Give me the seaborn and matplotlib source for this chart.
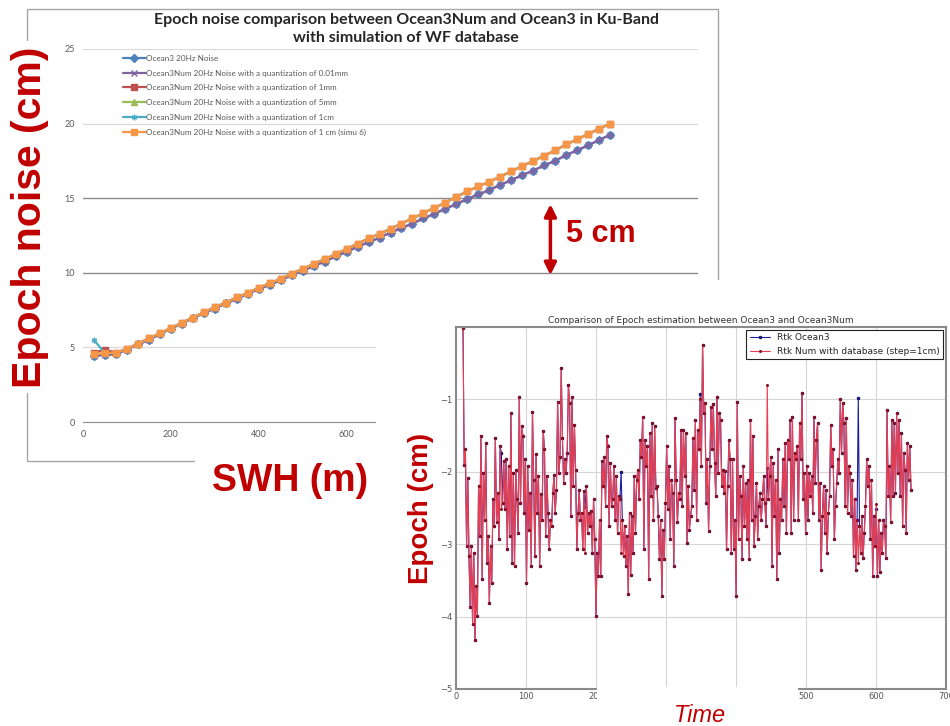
import matplotlib
matplotlib.use("Agg")
import matplotlib.pyplot as plt
from matplotlib.patches import Rectangle
import numpy as np
import seaborn as sns

sns.set_style("white")
plt.rcParams["font.family"] = ["DejaVu Sans"]

RED = "#c00000"
W, H = 950, 726

# ---- top chart: epoch noise vs SWH (Excel screenshot) ----
swh = list(range(25, 1225, 25))
ocean3_noise = [4.45, 4.50, 4.55, 4.85, 5.20, 5.50, 5.90, 6.25, 6.60, 6.95,
                7.30, 7.60, 7.95, 8.25, 8.60, 8.90, 9.20, 9.50, 9.85, 10.15,
                10.45, 10.75, 11.10, 11.40, 11.75, 12.05, 12.35, 12.70, 13.00, 13.30,
                13.65, 13.95, 14.30, 14.60, 14.95, 15.25, 15.55, 15.90, 16.20, 16.55,
                16.85, 17.20, 17.50, 17.90, 18.20, 18.55, 18.90, 19.25]
num_1cm_simu6 = [4.55, 4.60, 4.65, 4.90, 5.25, 5.60, 5.95, 6.30, 6.65, 7.00,
                 7.35, 7.70, 8.00, 8.35, 8.65, 9.00, 9.30, 9.60, 9.95, 10.25,
                 10.60, 10.90, 11.25, 11.60, 11.95, 12.30, 12.60, 12.95, 13.30, 13.65,
                 14.00, 14.35, 14.70, 15.10, 15.45, 15.80, 16.10, 16.45, 16.80, 17.15,
                 17.50, 17.85, 18.20, 18.60, 18.95, 19.30, 19.65, 20.00]
num_001mm = list(ocean3_noise)
num_1mm = [4.65, 4.85] + num_1cm_simu6[2:]
num_5mm = list(num_1cm_simu6)
num_1cm = [5.50] + num_1cm_simu6[1:]
# labels right of 600 are hidden under the second screenshot
swh_ticks = [0, 200, 400, 600, 800, 1000, 1200, 1400]
swh_ticklabels = ["0", "200", "400", "600", "", "", "", ""]

q = "Ocean3Num 20Hz Noise with a quantization of "
top_series = [
    ("Ocean3 20Hz Noise", ocean3_noise, "#4F81BD", "D"),
    (q + "0.01mm", num_001mm, "#8064A2", "x"),
    (q + "1mm", num_1mm, "#C0504D", "s"),
    (q + "5mm", num_5mm, "#9BBB59", "^"),
    (q + "1cm", num_1cm, "#4BACC6", (6, 2, 0)),
    (q + "1 cm (simu 6)", num_1cm_simu6, "#F79646", "s"),
]

# ---- bottom chart: epoch time series ----
rtk_num = [
    -0.02, -1.90, -1.69, -3.03, -2.08, -3.16, -3.87, -3.03, -4.10, -3.12, -4.32, -3.58, -3.99,
    -2.20, -2.89, -1.51, -3.48, -2.02, -2.66, -1.60, -3.26, -2.89, -3.81, -3.03, -3.53, -2.38, -2.75,
    -1.53, -2.70, -2.29, -2.93, -1.65, -2.52, -2.43, -1.85, -2.52, -1.83, -3.07, -1.92,
    -2.89, -1.19, -3.26, -2.02, -3.30, -1.97, -2.38, -2.84, -0.96, -2.43, -1.37, -1.51,
    -2.57, -1.83, -3.53, -1.92, -2.80, -2.29, -3.30, -1.17, -2.11, -3.16, -1.76, -2.57, -2.06,
    -3.30, -2.31, -2.66, -1.44, -1.69, -2.89, -2.06, -2.57, -3.07, -2.66, -2.75,
    -2.29, -2.04, -2.57, -2.25, -1.03, -2.02, -1.79, -0.57, -1.53, -2.15, -1.83, -2.02,
    -1.74, -0.80, -1.05, -2.61, -0.96, -2.20, -1.35, -1.97, -3.07, -2.57,
    -2.25, -2.66, -2.57, -3.07, -2.27, -3.12, -2.20, -2.84, -2.57, -2.75, -2.54, -3.12, -2.38,
    -2.93, -3.99, -3.12, -3.44, -2.66, -3.44, -1.85, -2.20, -1.79, -2.47, -1.51, -1.65,
    -2.75, -1.88, -2.47, -2.38, -1.92, -2.66, -2.06, -2.84, -2.34, -2.38,
    -3.12, -2.66, -3.16, -2.75, -3.30, -2.89, -3.69, -2.57, -3.42, -2.61, -3.12,
    -2.06, -2.84, -2.11, -1.97, -2.38, -1.56, -1.79, -1.24, -3.07, -1.56, -1.92, -1.65,
    -3.48, -1.46, -2.34, -1.33, -2.66, -1.37, -2.22, -2.20, -2.61, -3.21, -2.66, -3.71,
    -2.80, -3.21, -2.43, -1.65, -2.52, -1.92, -2.93, -2.11, -2.29, -3.30, -1.26, -2.11,
    -2.70, -2.29, -2.38, -1.42, -2.47, -1.42, -2.06, -1.46, -2.98, -2.20, -2.80, -2.61,
    -2.47, -1.53, -2.25, -1.28, -2.66, -1.42,
    -1.69, -1.00, -1.92, -0.25, -1.19, -1.05, -2.43, -1.83, -2.82, -1.92,
    -1.10, -1.69, -1.07, -1.88, -2.34, -0.96, -2.02, -1.19, -1.28, -2.20, -1.97,
    -2.29, -1.99, -3.07, -2.20, -1.56, -1.83, -3.12, -1.83, -3.07, -2.66, -3.71,
    -1.03, -2.93, -2.06, -2.34, -3.21, -1.92, -2.75, -2.15, -2.93, -2.11, -3.21, -1.28,
    -2.66, -1.51, -3.03, -2.61, -2.15, -2.93, -2.47, -2.29, -2.66, -2.38, -2.06, -2.43,
    -2.75, -0.80, -2.38, -2.06, -1.79, -3.30, -1.88, -2.61, -2.11, -3.48, -1.69, -3.12,
    -2.38, -2.66, -1.83, -2.47, -1.60, -2.84, -1.56, -1.83, -1.28,
    -2.84, -1.24, -2.66, -1.74, -1.83, -1.65, -2.66, -1.33, -1.83,
    -0.91, -2.38, -2.02, -2.84, -1.92, -2.66, -2.02, -2.34, -2.06,
    -2.57, -1.24, -2.15, -1.56, -1.33, -2.66, -2.15, -3.35, -2.61, -2.20,
    -2.84, -2.25, -3.12, -2.57, -2.34, -1.35, -1.92, -1.69, -2.93, -2.47, -2.15, -1.83,
    -2.02, -1.00, -1.74, -1.05, -1.33, -2.47, -1.26, -2.57, -1.92, -2.02,
    -2.61, -2.11, -3.16, -2.38, -3.35, -2.66, -3.26, -2.75, -3.12, -2.61, -3.19, -2.84,
    -2.47, -1.83, -2.20, -1.92, -2.93, -2.11, -3.44, -2.61, -3.03, -2.45, -3.44, -2.66, -3.39,
    -2.84, -3.12, -2.66, -2.75, -3.19, -1.14, -2.34, -1.92, -2.70, -1.28, -2.34, -1.33,
    -2.29, -1.19, -2.02, -1.28, -2.34, -1.46, -2.75, -1.74, -1.97,
    -2.84, -1.60, -2.11, -1.65, -2.25,
]
# points where the Ocean3 curve shows from under the red one
rtk_ocean3_diff = {32: -1.74, 102: -2.48, 132: -2.00, 198: -0.92,
                   254: -1.95, 330: -0.98, 345: -2.52}
rtk_ocean3 = [rtk_ocean3_diff.get(i, v) for i, v in enumerate(rtk_num)]
time = np.linspace(10, 650, len(rtk_num))


def fx(px):
    return px / W


def fy(py):
    return 1 - py / H


fig = plt.figure(figsize=(9.5, 7.26), dpi=100)

# Excel chart frame
fig.patches.append(Rectangle((fx(27), fy(461)), fx(718 - 27), (461 - 9) / H,
                             transform=fig.transFigure, fill=False,
                             edgecolor="#a6a6a6", lw=1.0, zorder=0))

ax1 = fig.add_axes([fx(83), fy(422), fx(698 - 83), (422 - 49) / H])
ax1.set_zorder(1)
for label, vals, color, marker in top_series:
    sns.lineplot(x=swh, y=vals, ax=ax1, color=color, marker=marker,
                 markersize=4, markeredgecolor=color, markeredgewidth=1.0,
                 lw=1.6, label=label, estimator=None, sort=False)
ax1.set_xlim(0, 1400)
ax1.set_ylim(0, 25)
ax1.set_xticks(swh_ticks, swh_ticklabels)
ax1.set_yticks(range(0, 26, 5))
for yv in [5, 20, 25]:
    ax1.axhline(yv, color="#d9d9d9", lw=0.9, zorder=0)
for yv in [10, 15]:
    ax1.axhline(yv, color="#8c8c8c", lw=1.0, zorder=0)
for side in ["top", "right", "left"]:
    ax1.spines[side].set_visible(False)
ax1.spines["bottom"].set_color("#8c8c8c")
ax1.tick_params(length=0, labelsize=6.5, colors="#595959", pad=6)
ax1.set_xlabel("")
ax1.set_ylabel("")
leg1 = ax1.legend(loc="upper left", bbox_to_anchor=(0.055, 1.0), frameon=False,
                  fontsize=5.9, labelspacing=0.95, handlelength=2.8,
                  handletextpad=0.1, borderaxespad=0.3)
for t in leg1.get_texts():
    t.set_color("#595959")
    t.set_family(["Lato", "DejaVu Sans"])
for t in ax1.get_xticklabels() + ax1.get_yticklabels():
    t.set_family(["Lato", "DejaVu Sans"])

fig.text(fx(406), fy(20), "Epoch noise comparison between Ocean3Num and Ocean3 in Ku-Band",
         ha="center", va="center", fontsize=11.5, weight="bold", color="#262626",
         family=["Lato", "DejaVu Sans"])
fig.text(fx(406), fy(38), "with simulation of WF database",
         ha="center", va="center", fontsize=11.5, weight="bold", color="#262626",
         family=["Lato", "DejaVu Sans"])

# 5 cm marker
ax1.annotate("", xy=(1064, 14.6), xytext=(1064, 9.85),
             arrowprops=dict(arrowstyle="<|-|>", color=RED, lw=2.5,
                             mutation_scale=18, shrinkA=0, shrinkB=0))
ax1.text(1100, 12.6, "5 cm", fontsize=22, weight="bold", color=RED, va="center",
         family=["Liberation Sans", "DejaVu Sans"])

# white area of the second screenshot
fig.patches.append(Rectangle((fx(376), 0), fx(W - 376), (H - 280) / H,
                             transform=fig.transFigure, facecolor="white",
                             edgecolor="none", zorder=5))

ax2 = fig.add_axes([fx(456), fy(689), fx(946 - 456), (689 - 327) / H])
ax2.set_zorder(6)
sns.lineplot(x=time, y=rtk_ocean3, ax=ax2, color="#1c1ca0", marker=".",
             markersize=3.5, markeredgecolor="#10106a", lw=0.8,
             label="Rtk Ocean3", estimator=None, sort=False)
sns.lineplot(x=time, y=rtk_num, ax=ax2, color="#ea3f50", marker=".",
             markersize=2.8, markeredgecolor="#8a1020", markerfacecolor="#8a1020",
             lw=0.8, label="Rtk Num with database (step=1cm)",
             estimator=None, sort=False)
ax2.set_xlim(0, 700)
ax2.set_ylim(-5, 0)
ax2.set_xticks(range(0, 701, 100))
ax2.set_yticks([-5, -4, -3, -2, -1])
ax2.grid(True, color="#d6d6d6", lw=0.8)
for s in ax2.spines.values():
    s.set_color("#8a8a8a")
    s.set_linewidth(1.5)
ax2.tick_params(labelsize=6, colors="#555555", length=0, pad=2.5)
ax2.set_xlabel("")
ax2.set_ylabel("")
ax2.set_title("Comparison of Epoch estimation between Ocean3 and Ocean3Num",
              fontsize=6.5, color="#333333", pad=3)
leg2 = ax2.legend(loc="upper right", fontsize=6.5, fancybox=False,
                  edgecolor="#222222", framealpha=1, borderaxespad=0.3,
                  handlelength=2.2)
leg2.get_frame().set_linewidth(0.8)

# red slide labels
fig.text(fx(30), fy(217), "Epoch noise (cm)", rotation=90, ha="center", va="center",
         fontsize=29.5, weight="bold", color=RED, zorder=7,
         family=["Liberation Sans", "DejaVu Sans"],
         bbox=dict(facecolor="white", edgecolor="none", pad=4))
fig.text(fx(290), fy(481), "SWH (m)", ha="center", va="center",
         fontsize=27, weight="bold", color=RED, zorder=7,
         family=["Liberation Sans", "DejaVu Sans"],
         bbox=dict(facecolor="white", edgecolor="none", pad=12))
fig.text(fx(421), fy(508), "Epoch (cm)", rotation=90, ha="center", va="center",
         fontsize=20, weight="bold", color=RED, zorder=7,
         family=["Liberation Sans", "DejaVu Sans"])
fig.patches.append(Rectangle((fx(597), 0), fx(201), (H - 687) / H,
                             transform=fig.transFigure, facecolor="white",
                             edgecolor="none", zorder=7))
fig.text(fx(700), fy(715), "Time", ha="center", va="center", fontsize=17,
         style="italic", color=RED, zorder=8,
         family=["Liberation Sans", "DejaVu Sans"])

fig.savefig("out.png", dpi=100)
